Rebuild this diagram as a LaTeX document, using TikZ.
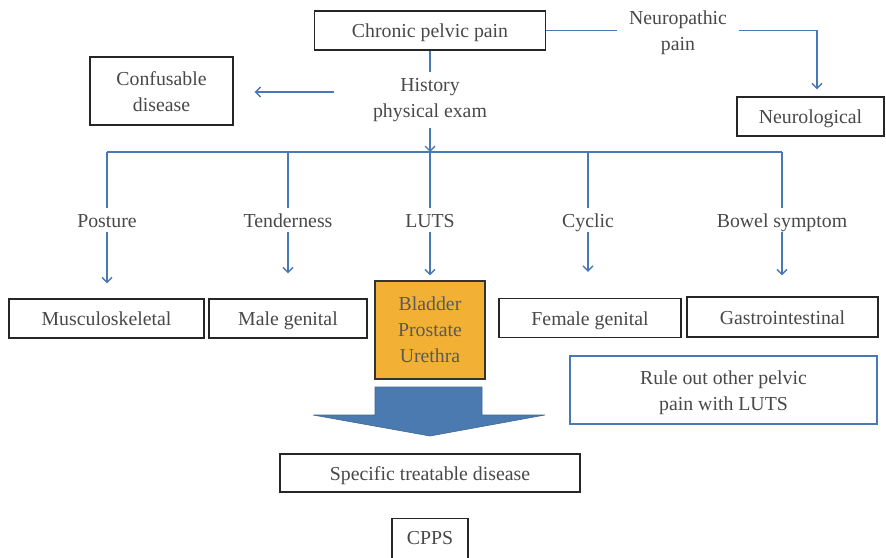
\documentclass[tikz,border=0pt]{standalone}
\usepackage{fontspec}
\setmainfont{Liberation Serif}
\usetikzlibrary{arrows.meta}
\definecolor{lineblue}{RGB}{74,120,181}
\definecolor{txtgray}{RGB}{72,72,72}
\definecolor{boxorange}{RGB}{242,177,52}
\definecolor{bigarrow}{RGB}{74,122,176}
\begin{document}
\begin{tikzpicture}[x=1pt,y=-1pt,
  every node/.style={font=\fontsize{19.8}{26}\selectfont, text=txtgray, align=center},
  oneline/.style={text height=16pt, text depth=2pt},
  blackbox/.style={draw=black!85, line width=1.4pt, inner sep=0pt, oneline},
  lbl/.style={inner sep=0pt, minimum height=24pt, oneline},
  conn/.style={draw=lineblue, line width=1.3pt},
  arr/.style={conn, -{Straight Barb[length=5pt,width=10pt,line width=1.3pt]}}
]
\useasboundingbox (0,0) rectangle (886,557);

% top
\node[blackbox, minimum width=231pt, minimum height=39pt] (cpp) at (430,30.5) {Chronic pelvic pain};
\node[inner sep=0pt, minimum width=121pt] (neuro) at (678,33) {Neuropathic\\pain};
\node[blackbox, minimum width=147pt, minimum height=39pt] (neurol) at (810.5,116.5) {Neurological};
\coordinate (nrc) at (817,30.5);
\draw[conn] (cpp.east) -- (cpp.east -| neuro.west);
\draw[arr, shorten >=7pt] (nrc -| neuro.east) -- (nrc) -- (nrc |- neurol.north);

\node[inner sep=0pt, minimum height=56pt] (hist) at (430,100) {History\\physical exam};
\draw[conn] (cpp.south) -- (hist.north);

\node[draw=black!85, line width=1.4pt, inner sep=0pt, minimum width=143pt, minimum height=68pt] (conf) at (161.5,91) {};
\node[inner sep=0pt] (conftxt) at ([yshift=-1pt]conf.center) {Confusable\\disease};
\coordinate (ca) at (334,92);
\draw[arr, shorten >=21pt] (ca) -- (ca -| conf.east);

% bus
\coordinate (busL) at (107,152);
\coordinate (busR) at (782,152);
\coordinate (busM) at (430,152);
\draw[arr] (hist.south) -- (busM);
\draw[conn] (busL) -- (busR);

% labels
\node[lbl] (post) at (107,220) {Posture};
\node[lbl] (tend) at (288,220) {Tenderness};
\node[lbl] (luts) at (430,220) {LUTS};
\node[lbl] (cyc)  at (588,220) {Cyclic};
\node[lbl] (bowel) at (782,220) {Bowel symptom};

\foreach \n in {post,tend,luts,cyc,bowel}{
  \draw[conn] (\n.north |- busL) -- (\n.north);
}

% boxes
\node[blackbox, minimum width=195pt, minimum height=39pt] (musc) at (106.5,318.5) {Musculoskeletal};
\node[blackbox, minimum width=158pt, minimum height=39pt] (male) at (288,318.5) {Male genital};
\node[draw=black!80, line width=1.4pt, fill=boxorange, minimum width=110pt, minimum height=98pt, inner sep=0pt, text=black!65] (blad) at (430,330) {Bladder\\Prostate\\Urethra};
\node[blackbox, minimum width=182pt, minimum height=39pt] (fem) at (590,318) {Female genital};
\node[blackbox, minimum width=191pt, minimum height=40pt] (gast) at (782.5,317) {Gastrointestinal};

\draw[arr, shorten >=15pt] (post.south) -- (post.south |- musc.north);
\draw[arr, shorten >=25pt] (tend.south) -- (tend.south |- male.north);
\draw[arr, shorten >=5pt] (luts.south) -- (luts.south |- blad.north);
\draw[arr, shorten >=26pt] (cyc.south) -- (cyc.south |- fem.north);
\draw[arr, shorten >=21pt] (bowel.south) -- (bowel.south |- gast.north);

\node[draw=lineblue, line width=1.3pt, minimum width=307pt, minimum height=68pt, inner sep=0pt] (rule) at (723.5,390) {};
\node[inner sep=0pt] (ruletxt) at ([yshift=-3pt]rule.center) {Rule out other pelvic\\pain with LUTS};

% big arrow
\draw[fill=bigarrow, draw=bigarrow!85!black, line width=0.6pt]
  (375,387) -- (482,387) -- (482,415) -- (545,415) -- (430,436) -- (313,415) -- (375,415) -- cycle;

\node[blackbox, minimum width=300pt, minimum height=38pt] (spec) at (430,473) {Specific treatable disease};
\node[draw=black!85, line width=1.4pt, inner sep=0pt, minimum width=76pt, minimum height=44pt, anchor=north] (cpps) at (430,518) {};
\node[oneline, inner sep=0pt] (cppstxt) at (430,537) {CPPS};
\end{tikzpicture}
\end{document}
